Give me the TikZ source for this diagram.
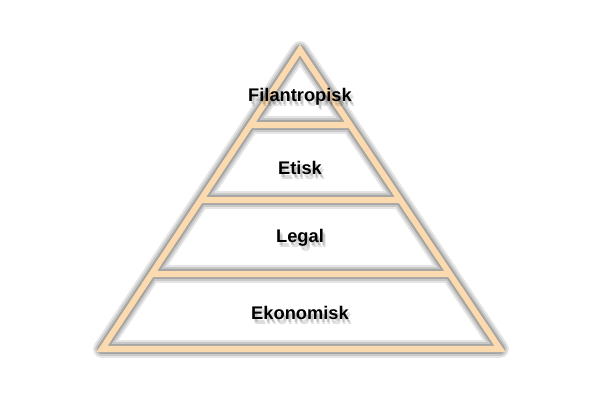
\documentclass[tikz,border=0pt]{standalone}
\usepackage{fontspec}
\setmainfont{Liberation Sans}
\usepackage{tikz}
\definecolor{peach}{HTML}{FCDAB0}
\tikzset{
  edge/.style={draw=peach, line width=4.3pt},
  shade/.style={draw=black, line cap=round, line join=round},
  level/.style={font=\fontsize{13}{15}\selectfont\bfseries, text=black},
  levelshade/.style={level, opacity=0.13}
}
\begin{document}
\begin{tikzpicture}[x=0.025cm, y=-0.025cm]
  \useasboundingbox (0,0) rectangle (600,400);
  \path
    (300,50) coordinate (top)
    (102,349) coordinate (bl)
    (500,349) coordinate (br)
    (250,125) coordinate (l1) (350,125) coordinate (r1)
    (201,200) coordinate (l2) (400,200) coordinate (r2)
    (152,274) coordinate (l3) (450,274) coordinate (r3);
  % shadow
  \foreach \w/\o in {18/0.1, 14/0.12, 10/0.18, 6/0.3} {
    \begin{scope}[shift={(8,8)}]
      \draw[shade, line width=\w*0.711pt, opacity=\o]
        (bl) -- (top) -- (br) -- cycle
        (l1) -- (r1) (l2) -- (r2) (l3) -- (r3);
    \end{scope}
  }
  % pyramid
  \draw[edge]
    (bl) -- (top) -- (br) -- cycle
    (l1) -- (r1) (l2) -- (r2) (l3) -- (r3);
  % labels
  \foreach \y/\t in {97/Filantropisk, 168/Etisk, 238/Legal, 313/Ekonomisk} {
    \node[levelshade] at (302,\y+3) {\t};
    \node[levelshade] at (303,\y+5) {\t};
  }
  \node[level] (fil) at (300,97) {Filantropisk};
  \node[level] (eti) at (300,168) {Etisk};
  \node[level] (leg) at (300,238) {Legal};
  \node[level] (eko) at (300,313) {Ekonomisk};
\end{tikzpicture}
\end{document}
